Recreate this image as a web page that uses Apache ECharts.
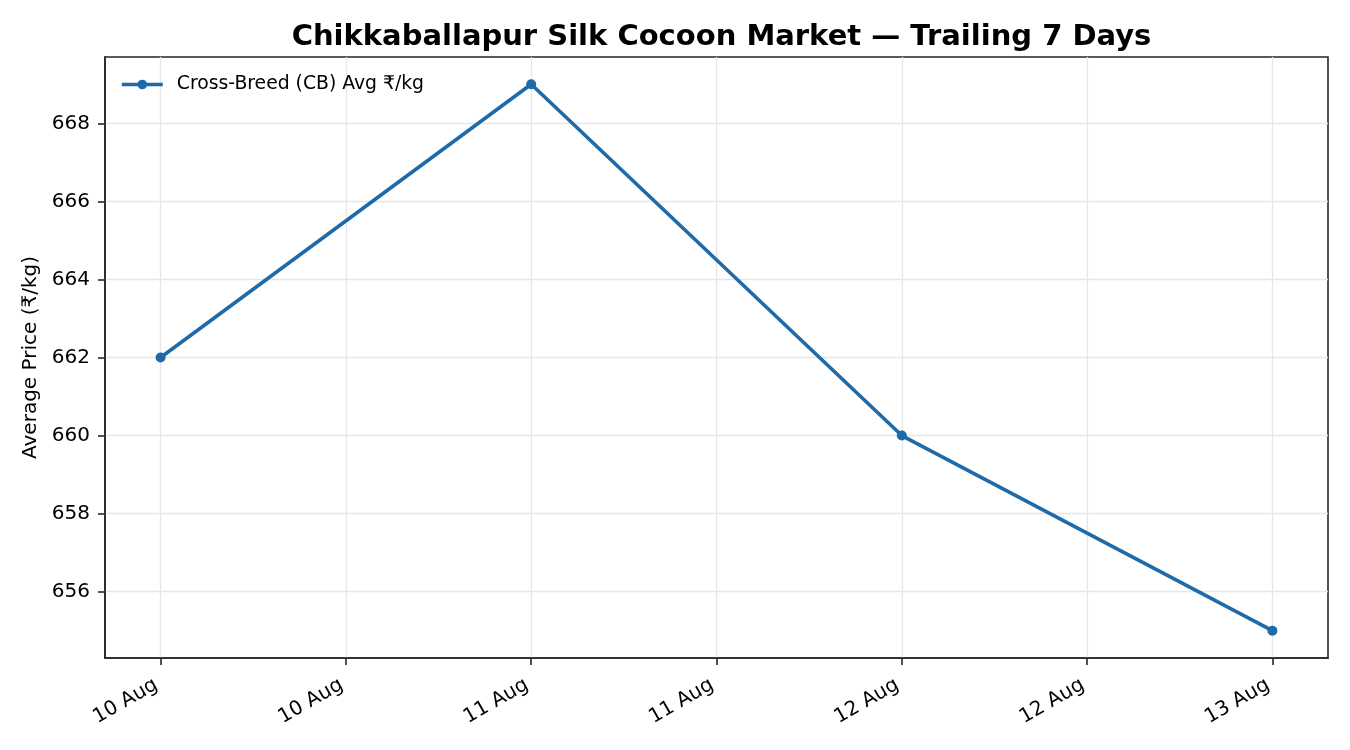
<!DOCTYPE html>
<html>
<head>
<meta charset="utf-8">
<script src="https://cdn.jsdelivr.net/npm/echarts@6/dist/echarts.min.js"></script>
<style>html,body{margin:0;padding:0;background:#fff;}#c{width:1350px;height:750px;}</style>
</head>
<body>
<div id="c"></div>
<script>
// Days since 10 Aug (00:00)
const dayOffsets = [0, 1, 2, 3];
const prices = [662, 669, 660, 655];
const seriesName = 'Cross-Breed (CB) Avg ₹/kg';
const xTickValues = [0, 0.5, 1, 1.5, 2, 2.5, 3];
const xTickLabels = ['10 Aug', '10 Aug', '11 Aug', '11 Aug', '12 Aug', '12 Aug', '13 Aug'];
const yTickValues = [656, 658, 660, 662, 664, 666, 668];

const FONT = 'DejaVu Sans';
const LINE = '#1f6aa8';
const chart = echarts.init(document.getElementById('c'));
const data = dayOffsets.map((d, i) => [d, prices[i]]);

chart.setOption({
  animation: false,
  backgroundColor: '#ffffff',
  textStyle: { fontFamily: FONT },
  title: {
    text: 'Chikkaballapur Silk Cocoon Market — Trailing 7 Days',
    left: 716.5, top: 18, textAlign: 'center',
    textStyle: { fontFamily: FONT, fontWeight: 'bold', fontSize: 29, color: '#000' }
  },
  legend: {
    left: 115, top: 70,
    itemWidth: 41, itemHeight: 12, itemGap: 12,
    lineStyle: { width: 3.6 },
    textStyle: { fontFamily: FONT, fontSize: 18.8, color: '#000', padding: [0, 0, 0, 9] },
    data: [seriesName]
  },
  grid: { left: 105, right: 22, top: 57, bottom: 92, show: true, borderColor: '#262626', borderWidth: 1.6, backgroundColor: 'transparent' },
  xAxis: {
    type: 'value', min: -0.15, max: 3.15,
    axisLine: { show: true, onZero: false, lineStyle: { color: '#262626', width: 1.6 } },
    axisTick: { show: true, length: 7, lineStyle: { color: '#262626', width: 1.6 }, customValues: xTickValues },
    axisLabel: {
      customValues: xTickValues,
      formatter: v => { const i = xTickValues.findIndex(t => Math.abs(t - v) < 1e-6); return i >= 0 ? xTickLabels[i] : ''; },
      rotate: 30, fontFamily: FONT, fontSize: 20, color: '#000', margin: 23, padding: [0, 5, 0, 0]
    },
    splitLine: { show: true, lineStyle: { color: '#e6e6e6', width: 1.3 } }
  },
  yAxis: {
    type: 'value', min: 654.3, max: 669.7,
    name: 'Average Price (₹/kg)', nameLocation: 'middle', nameGap: 59, nameRotate: 90,
    nameTextStyle: { fontFamily: FONT, fontSize: 20, color: '#000' },
    axisLine: { show: true, onZero: false, lineStyle: { color: '#262626', width: 1.6 } },
    axisTick: { show: true, length: 7, lineStyle: { color: '#262626', width: 1.6 }, customValues: yTickValues },
    axisLabel: { customValues: yTickValues, fontFamily: FONT, fontSize: 20, color: '#000', margin: 15 },
    splitLine: { show: true, lineStyle: { color: '#e6e6e6', width: 1.3 } }
  },
  series: [{
    name: seriesName,
    type: 'line',
    data: data,
    symbol: 'circle', symbolSize: 10,
    lineStyle: { color: LINE, width: 3.6 },
    itemStyle: { color: LINE }
  }]
});
</script>
</body>
</html>
